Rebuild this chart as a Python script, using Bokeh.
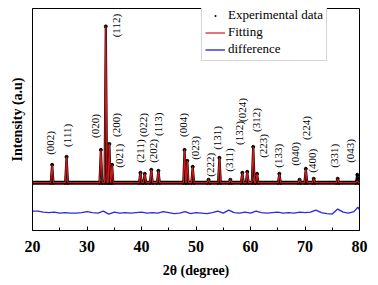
import math
from bokeh.plotting import figure
from bokeh.models import FixedTicker, Range1d, Legend, LegendItem, ColumnDataSource
from bokeh.embed import file_html
from bokeh.resources import INLINE
from bokeh.core.properties import value

# ---- data (arbitrary intensity units) ----
x_ticks = [20, 30, 40, 50, 60, 70, 80]
x_minor = [25, 35, 45, 55, 65, 75]
baseline = 48

peak_pos = [23.6, 26.25, 32.55, 33.45, 34.1, 34.6, 39.8, 40.6, 41.8, 43.1, 47.9, 48.4,
            49.4, 52.3, 54.3, 56.3, 58.5, 59.4, 60.5, 61.2, 65.3, 69.0, 70.15, 71.6, 76.0, 79.6]
peak_fit = [66, 74, 81, 205, 87, 66, 58, 57, 61, 60, 81, 70,
            64, 51, 73, 51, 58, 59, 84, 57, 57, 51, 62, 52, 52, 50]
peak_obs = [66, 74, 81, 205, 87, 66, 58, 57, 61, 60, 81, 70,
            64, 51, 73, 51, 58, 59, 84, 57, 57, 51, 62, 52, 52, 56]
peak_hw = [0.25, 0.25, 0.25, 0.22, 0.22, 0.22, 0.25, 0.25, 0.25, 0.25, 0.22, 0.22,
           0.25, 0.25, 0.25, 0.25, 0.25, 0.25, 0.25, 0.25, 0.25, 0.25, 0.25, 0.25, 0.25, 0.25]

diff_x = [20, 21, 22, 23, 24, 25, 26, 27, 28, 29, 30, 31, 32, 33, 34, 35, 36, 37, 38, 39,
          40, 41, 42, 43, 44, 45, 46, 47, 48, 49, 50, 51, 52, 53, 54, 55, 56, 57, 58, 59,
          60, 61, 62, 63, 64, 65, 66, 67, 68, 69, 70, 71, 72, 73, 74, 75, 76, 77, 78, 79, 79.7, 80]
diff_y = [19.5, 19.5, 18.5, 18, 18.5, 17.5, 18, 17.5, 17.5, 18, 19, 18, 17.5, 19.5, 16.5, 18.5, 17.5, 18, 17.5, 18,
          18.5, 17.5, 18, 17.5, 19, 18, 17, 17.5, 19, 17, 18, 17.5, 17, 18, 19.5, 17.5, 20.5, 18, 17.5, 18.5,
          17.5, 19.5, 18, 17.5, 18, 18.5, 17.5, 18, 17.5, 18.5, 18, 18.5, 20.5, 18, 17, 16.5, 21.5, 18.5, 17.5, 19, 23.5, 21]

hkl_text = ["(002)", "(111)", "(020)", "(112)", "(200)", "(021)", "(211)", "(022)", "(202)", "(113)",
            "(004)", "(023)", "(222)", "(131)", "(311)", "(132)", "(024)", "(312)", "(223)", "(133)",
            "(040)", "(224)", "(400)", "(331)", "(043)"]
hkl_x = [23.3, 26.4, 31.4, 35.4, 35.4, 35.8, 39.8, 40.2, 42.2, 43.1,
         47.65, 49.8, 52.5, 53.8, 56.0, 57.9, 58.5, 61.0, 62.3, 65.1,
         68.1, 70.15, 71.2, 75.4, 78.2]
hkl_y = [76, 84, 93, 194, 94, 63, 68, 94, 68, 95,
         94, 71, 54, 81, 59, 86, 109, 99, 73, 63,
         65, 91, 58, 63, 68]


def profile(tops):
    pts = [(20, baseline), (80, baseline)]
    for pos, top, hw in zip(peak_pos, tops, peak_hw):
        pts += [(pos - hw, baseline), (pos, top), (pos + hw, baseline)]
    pts.sort(key=lambda t: t[0])
    return [t[0] for t in pts], [t[1] for t in pts]


fit_x, fit_y = profile(peak_fit)
obs_x, obs_y = profile(peak_obs)

SERIF = "Liberation Serif"

p = figure(frame_width=327, frame_height=222, output_backend="svg", toolbar_location=None,
           x_range=Range1d(20, 80), y_range=Range1d(0, 223),
           min_border_left=32, min_border_right=11, min_border_top=8, min_border_bottom=40)
p.background_fill_color = "white"
p.border_fill_color = "white"
p.outline_line_color = "black"
p.outline_line_width = 1
p.grid.visible = False

# x axis
xa = p.xaxis[0]
xa.ticker = FixedTicker(ticks=x_ticks, minor_ticks=x_minor)
xa.major_tick_in = 4
xa.major_tick_out = 0
xa.minor_tick_in = 3
xa.minor_tick_out = 0
xa.axis_line_color = "black"
xa.major_tick_line_color = "black"
xa.minor_tick_line_color = "black"
xa.major_label_text_font = SERIF
xa.major_label_text_font_style = "bold"
xa.major_label_text_font_size = "16px"
xa.major_label_text_color = "black"
xa.major_label_standoff = 10
xa.axis_label = "2θ (degree)"
xa.axis_label_text_font = SERIF
xa.axis_label_text_font_style = "bold"
xa.axis_label_text_font_size = "14px"
xa.axis_label_text_color = "black"
xa.axis_label_standoff = 8

# y axis
ya = p.yaxis[0]
ya.ticker = FixedTicker(ticks=[])
ya.major_tick_in = 0
ya.major_tick_out = 0
ya.minor_tick_in = 0
ya.minor_tick_out = 0
ya.axis_line_color = "black"
ya.axis_label = "Intensity (a.u)"
ya.axis_label_text_font = SERIF
ya.axis_label_text_font_style = "bold"
ya.axis_label_text_font_size = "14px"
ya.axis_label_text_color = "black"
ya.axis_label_standoff = 8

# experimental data band: noisy baseline band plus the peaks
p.line([x_ticks[0], x_ticks[-1]], [baseline, baseline], line_color="black", line_width=4)
p.line(obs_x, obs_y, line_color="black", line_width=2.2)
p.scatter(obs_x, obs_y, size=3, color="black")
exp_leg = p.scatter([-100], [-100], size=2, color="black", line_alpha=0)
# fit
fit_r = p.line(fit_x, fit_y, line_color="#d01818", line_width=1.2)
# difference
diff_r = p.line(diff_x, diff_y, line_color="#2b2be0", line_width=1.4)

# hkl labels
src = ColumnDataSource(dict(x=hkl_x, y=hkl_y, t=hkl_text))
p.text(x="x", y="y", text="t", source=src, angle=math.pi / 2,
       text_align="left", text_baseline="middle",
       text_font=value(SERIF), text_font_size="11px", text_color="black")

legend = Legend(items=[LegendItem(label="Experimental data", renderers=[exp_leg]),
                       LegendItem(label="Fitting", renderers=[fit_r]),
                       LegendItem(label="difference", renderers=[diff_r])],
                location=(169, 169))
legend.label_text_font = SERIF
legend.label_text_font_size = "13px"
legend.label_text_color = "black"
legend.label_height = 14
legend.label_standoff = 3
legend.glyph_width = 20
legend.glyph_height = 5
legend.spacing = 1
legend.padding = 3
legend.margin = 0
legend.border_line_color = "#aaaaaa"
legend.border_line_width = 1
legend.background_fill_alpha = 1
p.add_layout(legend)

open("out.html", "w").write(file_html(p, INLINE))
